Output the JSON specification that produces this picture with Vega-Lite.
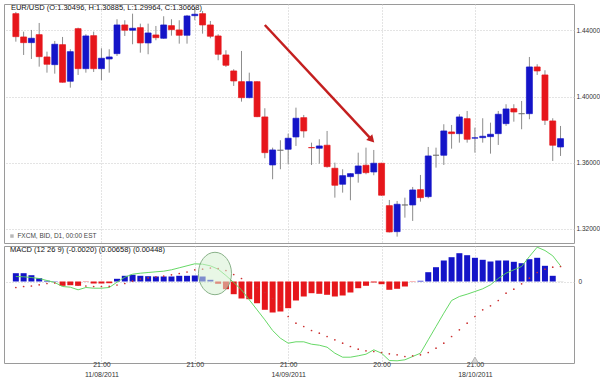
{
"$schema": "https://vega.github.io/schema/vega-lite/v6.json",
"padding": {"left": 3, "top": 3, "right": 0, "bottom": 0},
"spacing": 0,
"background": "white",
"config": {
 "view": {"stroke": "#9a9a9a", "strokeWidth": 1},
 "axis": {"labelFont": "Liberation Sans", "labelColor": "#333333", "labelFontSize": 7, "ticks": false, "domain": false, "gridColor": "#c8c8c8", "gridDash": [1, 2], "title": null}
},
"datasets": {"fx": [
{"i":1,"o":1.45016,"h":1.45119,"l":1.43323,"c":1.43626,"d":"down","m":0.001,"s":-0.0012,"hh":0.00166},
{"i":2,"o":1.43607,"h":1.43928,"l":1.42519,"c":1.43263,"d":"down","m":0.00094,"s":-0.001,"hh":0.00166},
{"i":3,"o":1.43263,"h":1.44031,"l":1.42277,"c":1.43529,"d":"up","m":0.0008,"s":-0.0009,"hh":0.00126},
{"i":4,"o":1.43747,"h":1.44454,"l":1.41812,"c":1.42416,"d":"down","m":0.0006,"s":-0.00066,"hh":0.00066},
{"i":5,"o":1.42398,"h":1.42719,"l":1.41449,"c":1.41957,"d":"down","m":0.0002,"s":-0.0004,"hh":0.00014},
{"i":6,"o":1.41933,"h":1.43366,"l":1.41389,"c":1.43166,"d":"up","m":-0.0002,"s":-0.0003,"hh":0.00006},
{"i":7,"o":1.43142,"h":1.43607,"l":1.4085,"c":1.40869,"d":"down","m":-0.001,"s":-0.0003,"hh":-0.00086},
{"i":8,"o":1.40929,"h":1.42864,"l":1.40542,"c":1.42719,"d":"up","m":-0.00114,"s":-0.0005,"hh":-0.00074},
{"i":9,"o":1.44109,"h":1.4417,"l":1.4131,"c":1.41691,"d":"down","m":-0.00166,"s":-0.0007,"hh":-0.00086},
{"i":10,"o":1.41691,"h":1.43771,"l":1.41449,"c":1.43668,"d":"up","m":-0.0012,"s":-0.0009,"hh":-0.00006},
{"i":11,"o":1.43686,"h":1.43928,"l":1.41491,"c":1.41691,"d":"down","m":-0.00134,"s":-0.001,"hh":-0.0004},
{"i":12,"o":1.41691,"h":1.42924,"l":1.4099,"c":1.4232,"d":"up","m":-0.00134,"s":-0.001,"hh":-0.0004},
{"i":13,"o":1.42277,"h":1.42864,"l":1.41449,"c":1.42398,"d":"up","m":-0.0012,"s":-0.00096,"hh":-0.00034},
{"i":14,"o":1.42598,"h":1.44678,"l":1.42459,"c":1.44333,"d":"up","m":-0.00014,"s":-0.0007,"hh":0.00054},
{"i":15,"o":1.44333,"h":1.44617,"l":1.43668,"c":1.44013,"d":"down","m":0.00086,"s":-0.0004,"hh":0.00114},
{"i":16,"o":1.44013,"h":1.45016,"l":1.43166,"c":1.44133,"d":"up","m":0.00146,"s":0.00006,"hh":0.00134},
{"i":17,"o":1.4417,"h":1.44412,"l":1.42658,"c":1.43245,"d":"down","m":0.00166,"s":0.0005,"hh":0.00114},
{"i":18,"o":1.43245,"h":1.44412,"l":1.42561,"c":1.43849,"d":"up","m":0.0018,"s":0.00074,"hh":0.00106},
{"i":19,"o":1.43728,"h":1.44272,"l":1.43408,"c":1.43565,"d":"down","m":0.00194,"s":0.00094,"hh":0.001},
{"i":20,"o":1.43529,"h":1.44859,"l":1.435,"c":1.44333,"d":"up","m":0.00206,"s":0.00106,"hh":0.001},
{"i":21,"o":1.44291,"h":1.44678,"l":1.43686,"c":1.44049,"d":"down","m":0.00234,"s":0.00134,"hh":0.001},
{"i":22,"o":1.44031,"h":1.44617,"l":1.43202,"c":1.4371,"d":"down","m":0.00274,"s":0.0016,"hh":0.00114},
{"i":23,"o":1.4371,"h":1.44938,"l":1.43202,"c":1.44877,"d":"up","m":0.00314,"s":0.0019,"hh":0.00114},
{"i":24,"o":1.44895,"h":1.45421,"l":1.44617,"c":1.4498,"d":"up","m":0.00354,"s":0.00234,"hh":0.0012},
{"i":25,"o":1.45016,"h":1.45179,"l":1.43807,"c":1.44333,"d":"down","m":0.00346,"s":0.00246,"hh":0.001},
{"i":26,"o":1.44333,"h":1.44575,"l":1.43529,"c":1.4365,"d":"down","m":0.00314,"s":0.0027,"hh":0.00034},
{"i":27,"o":1.43668,"h":1.43771,"l":1.42199,"c":1.42561,"d":"down","m":0.00246,"s":0.0026,"hh":-0.00046},
{"i":28,"o":1.42519,"h":1.42803,"l":1.41794,"c":1.41896,"d":"down","m":0.0012,"s":0.0022,"hh":-0.00154},
{"i":29,"o":1.41552,"h":1.41655,"l":1.40645,"c":1.40947,"d":"down","m":-0.0002,"s":0.0014,"hh":-0.00254},
{"i":30,"o":1.40905,"h":1.42761,"l":1.39696,"c":1.39937,"d":"down","m":-0.00166,"s":0.0006,"hh":-0.0034},
{"i":31,"o":1.39937,"h":1.41449,"l":1.399,"c":1.40905,"d":"up","m":-0.00366,"s":-0.0002,"hh":-0.00354},
{"i":32,"o":1.40905,"h":1.4093,"l":1.3876,"c":1.38789,"d":"down","m":-0.00566,"s":-0.0012,"hh":-0.00434},
{"i":33,"o":1.38771,"h":1.39297,"l":1.36274,"c":1.36612,"d":"down","m":-0.00766,"s":-0.0022,"hh":-0.00566},
{"i":34,"o":1.35869,"h":1.36915,"l":1.35004,"c":1.36775,"d":"up","m":-0.0098,"s":-0.0034,"hh":-0.0062},
{"i":35,"o":1.36757,"h":1.37362,"l":1.35609,"c":1.36757,"d":"flat","m":-0.01134,"s":-0.005,"hh":-0.006},
{"i":36,"o":1.36818,"h":1.37761,"l":1.35911,"c":1.37483,"d":"up","m":-0.01234,"s":-0.007,"hh":-0.00534},
{"i":37,"o":1.37561,"h":1.39333,"l":1.37017,"c":1.38692,"d":"up","m":-0.01206,"s":-0.00834,"hh":-0.0038},
{"i":38,"o":1.38728,"h":1.38892,"l":1.37519,"c":1.37924,"d":"down","m":-0.01206,"s":-0.009,"hh":-0.003},
{"i":39,"o":1.3692,"h":1.37217,"l":1.35869,"c":1.3691,"d":"down","m":-0.01254,"s":-0.0098,"hh":-0.00234},
{"i":40,"o":1.36878,"h":1.37422,"l":1.35947,"c":1.37017,"d":"up","m":-0.01274,"s":-0.01034,"hh":-0.00246},
{"i":41,"o":1.3706,"h":1.37924,"l":1.35705,"c":1.35766,"d":"down","m":-0.01314,"s":-0.011,"hh":-0.00266},
{"i":42,"o":1.35669,"h":1.36008,"l":1.33892,"c":1.34641,"d":"down","m":-0.01434,"s":-0.01166,"hh":-0.003},
{"i":43,"o":1.34702,"h":1.35609,"l":1.34194,"c":1.35222,"d":"up","m":-0.01514,"s":-0.01234,"hh":-0.0028},
{"i":44,"o":1.35161,"h":1.3537,"l":1.33734,"c":1.35343,"d":"up","m":-0.01514,"s":-0.013,"hh":-0.0022},
{"i":45,"o":1.35343,"h":1.36612,"l":1.34798,"c":1.35808,"d":"up","m":-0.01486,"s":-0.01354,"hh":-0.00134},
{"i":46,"o":1.35851,"h":1.36915,"l":1.35306,"c":1.35403,"d":"down","m":-0.01454,"s":-0.01386,"hh":-0.00086},
{"i":47,"o":1.35445,"h":1.36775,"l":1.35246,"c":1.35971,"d":"up","m":-0.01366,"s":-0.014,"hh":-0.0002},
{"i":48,"o":1.35971,"h":1.36,"l":1.3401,"c":1.34037,"d":"down","m":-0.01434,"s":-0.0142,"hh":-0.00054},
{"i":49,"o":1.33408,"h":1.33752,"l":1.3179,"c":1.31818,"d":"down","m":-0.0158,"s":-0.01446,"hh":-0.00166},
{"i":50,"o":1.31836,"h":1.33692,"l":1.31534,"c":1.33492,"d":"up","m":-0.01586,"s":-0.01466,"hh":-0.00146},
{"i":51,"o":1.3345,"h":1.33892,"l":1.32682,"c":1.3345,"d":"flat","m":-0.01566,"s":-0.015,"hh":-0.001},
{"i":52,"o":1.3345,"h":1.34538,"l":1.32483,"c":1.34357,"d":"up","m":-0.015,"s":-0.01486,"hh":-0.00006},
{"i":53,"o":1.34375,"h":1.35264,"l":1.3365,"c":1.33892,"d":"down","m":-0.01434,"s":-0.01466,"hh":0.00014},
{"i":54,"o":1.33952,"h":1.36957,"l":1.33855,"c":1.36413,"d":"up","m":-0.01166,"s":-0.0142,"hh":0.00186},
{"i":55,"o":1.36455,"h":1.36915,"l":1.35705,"c":1.36455,"d":"flat","m":-0.009,"s":-0.01334,"hh":0.00286},
{"i":56,"o":1.36455,"h":1.38329,"l":1.35869,"c":1.37924,"d":"up","m":-0.00634,"s":-0.01234,"hh":0.0042},
{"i":57,"o":1.37864,"h":1.38287,"l":1.36854,"c":1.37761,"d":"down","m":-0.0038,"s":-0.011,"hh":0.00486},
{"i":58,"o":1.37761,"h":1.38934,"l":1.37217,"c":1.38771,"d":"up","m":-0.003,"s":-0.00966,"hh":0.00566},
{"i":59,"o":1.38668,"h":1.39133,"l":1.37217,"c":1.37422,"d":"down","m":-0.00254,"s":-0.00834,"hh":0.00526},
{"i":60,"o":1.3749,"h":1.38124,"l":1.36612,"c":1.3751,"d":"up","m":-0.002,"s":-0.007,"hh":0.00474},
{"i":61,"o":1.37519,"h":1.38692,"l":1.37217,"c":1.37604,"d":"up","m":-0.00146,"s":-0.00566,"hh":0.00434},
{"i":62,"o":1.3758,"h":1.38426,"l":1.36552,"c":1.37725,"d":"up","m":-0.00066,"s":-0.00486,"hh":0.004},
{"i":63,"o":1.37761,"h":1.39133,"l":1.37078,"c":1.38934,"d":"up","m":0.0006,"s":-0.0038,"hh":0.0042},
{"i":64,"o":1.38366,"h":1.39539,"l":1.38226,"c":1.39254,"d":"up","m":0.00166,"s":-0.00234,"hh":0.0042},
{"i":65,"o":1.39272,"h":1.39539,"l":1.38486,"c":1.39073,"d":"down","m":0.00234,"s":-0.00154,"hh":0.00394},
{"i":66,"o":1.3897,"h":1.39738,"l":1.38027,"c":1.3897,"d":"flat","m":0.003,"s":-0.00046,"hh":0.00366},
{"i":67,"o":1.3897,"h":1.42398,"l":1.38632,"c":1.41794,"d":"up","m":0.005,"s":0.00066,"hh":0.00446},
{"i":68,"o":1.41794,"h":1.41957,"l":1.4131,"c":1.41552,"d":"down","m":0.00686,"s":0.0018,"hh":0.00474},
{"i":69,"o":1.4131,"h":1.41594,"l":1.38287,"c":1.38571,"d":"down","m":0.0062,"s":0.00246,"hh":0.00314},
{"i":70,"o":1.38529,"h":1.38692,"l":1.3611,"c":1.3706,"d":"down","m":0.00514,"s":0.00286,"hh":0.00114},
{"i":71,"o":1.36957,"h":1.38226,"l":1.36413,"c":1.37459,"d":"up","m":0.00314,"s":0.003,"hh":0.00003}
]},
"vconcat": [
{
 "width": 570, "height": 239,
 "layer": [
  {"data": {"name": "fx"},
   "mark": {"type": "rule", "color": "#8c8c8c", "strokeWidth": 1},
   "encoding": {
    "x": {"field": "i", "type": "quantitative", "scale": {"domain": [0.12, 72.09], "nice": false, "zero": false},
          "axis": {"values": [12, 24, 36, 48, 60], "labels": false, "grid": true}},
    "y": {"field": "l", "type": "quantitative", "scale": {"domain": [1.3115, 1.456], "nice": false, "zero": false},
          "axis": {"orient": "right", "values": [1.32, 1.36, 1.40, 1.44], "format": ".5f", "grid": true, "labelPadding": 2, "labelFontSize": 6.5}},
    "y2": {"field": "h"}
   }},
  {"data": {"name": "fx"},
   "mark": {"type": "bar", "size": 6, "strokeWidth": 0.7},
   "encoding": {
    "x": {"field": "i", "type": "quantitative", "scale": {"domain": [0.12, 72.09], "nice": false, "zero": false}},
    "y": {"field": "o", "type": "quantitative", "scale": {"domain": [1.3115, 1.456], "nice": false, "zero": false}},
    "y2": {"field": "c"},
    "color": {"field": "d", "type": "nominal", "scale": {"domain": ["up", "down", "flat"], "range": ["#1414c8", "#e6161b", "#707070"]}, "legend": null},
    "stroke": {"field": "d", "type": "nominal", "scale": {"domain": ["up", "down", "flat"], "range": ["#1414c8", "#e6161b", "#707070"]}, "legend": null}
   }},
  {"data": {"values": [{"x1": 33.0, "y1": 1.4433, "x2": 46.7, "y2": 1.3741}]},
   "mark": {"type": "rule", "color": "#c41f1f", "strokeWidth": 2.5},
   "encoding": {
    "x": {"field": "x1", "type": "quantitative", "scale": {"domain": [0.12, 72.09], "nice": false, "zero": false}},
    "x2": {"field": "x2"},
    "y": {"field": "y1", "type": "quantitative", "scale": {"domain": [1.3115, 1.456], "nice": false, "zero": false}},
    "y2": {"field": "y2"}
   }},
  {"data": {"values": [{}]},
   "mark": {"type": "point", "shape": "triangle-up", "angle": 136.5, "size": 70, "filled": true, "color": "#c41f1f", "opacity": 1},
   "encoding": {
    "x": {"datum": 46.74, "type": "quantitative", "scale": {"domain": [0.12, 72.09], "nice": false, "zero": false}},
    "y": {"datum": 1.3739, "type": "quantitative", "scale": {"domain": [1.3115, 1.456], "nice": false, "zero": false}}
   }},
  {"data": {"values": [{}]},
   "mark": {"type": "text", "align": "left", "baseline": "middle", "font": "Liberation Sans", "fontSize": 7.5, "color": "#111111", "text": "EUR/USD (O:1.30496, H:1.30885, L:1.29964, C:1.30668)"},
   "encoding": {
    "x": {"datum": 0.37, "type": "quantitative", "scale": {"domain": [0.12, 72.09], "nice": false, "zero": false}},
    "y": {"datum": 1.4535, "type": "quantitative", "scale": {"domain": [1.3115, 1.456], "nice": false, "zero": false}}
   }},
  {"data": {"values": [{}]},
   "mark": {"type": "point", "shape": "square", "size": 12, "filled": true, "color": "#b8b8b8", "opacity": 1},
   "encoding": {
    "x": {"datum": 0.5, "type": "quantitative", "scale": {"domain": [0.12, 72.09], "nice": false, "zero": false}},
    "y": {"datum": 1.3157, "type": "quantitative", "scale": {"domain": [1.3115, 1.456], "nice": false, "zero": false}}
   }},
  {"data": {"values": [{}]},
   "mark": {"type": "text", "align": "left", "baseline": "middle", "font": "Liberation Sans", "fontSize": 6.5, "color": "#444444", "text": "FXCM, BID, D1, 00:00 EST"},
   "encoding": {
    "x": {"datum": 1.2, "type": "quantitative", "scale": {"domain": [0.12, 72.09], "nice": false, "zero": false}},
    "y": {"datum": 1.3157, "type": "quantitative", "scale": {"domain": [1.3115, 1.456], "nice": false, "zero": false}}
   }}
 ]
},
{
 "width": 570, "height": 117,
 "layer": [
  {"data": {"name": "fx"},
   "mark": {"type": "bar", "size": 6},
   "encoding": {
    "x": {"field": "i", "type": "quantitative", "scale": {"domain": [0.12, 72.09], "nice": false, "zero": false},
          "axis": {"values": [12, 24, 36, 48, 60], "grid": true, "labelPadding": -3, "labelLineHeight": 10, "labelFontSize": 7,
                   "labelExpr": "datum.value == 12 ? ['21:00', '11/08/2011'] : datum.value == 36 ? ['21:00', '14/09/2011'] : datum.value == 48 ? '20:00' : datum.value == 60 ? ['21:00', '18/10/2011'] : '21:00'"}},
    "y": {"field": "hh", "type": "quantitative", "scale": {"domain": [-0.0163, 0.0071], "nice": false, "zero": false},
          "axis": {"orient": "right", "values": [0], "format": "d", "grid": true, "labelPadding": 4, "labelFontSize": 6.5}},
    "y2": {"datum": 0},
    "color": {"condition": [{"test": "abs(datum.hh) < 0.00004", "value": "#777777"}, {"test": "datum.hh < 0", "value": "#e6161b"}], "value": "#1414c8"}
   }},
  {"data": {"name": "fx"},
   "mark": {"type": "line", "color": "#55d455", "strokeWidth": 1, "opacity": 0.9},
   "encoding": {
    "x": {"field": "i", "type": "quantitative", "scale": {"domain": [0.12, 72.09], "nice": false, "zero": false}},
    "y": {"field": "m", "type": "quantitative", "scale": {"domain": [-0.0163, 0.0071], "nice": false, "zero": false}}
   }},
  {"data": {"name": "fx"},
   "mark": {"type": "point", "filled": true, "size": 3, "color": "#cc3333", "opacity": 1},
   "encoding": {
    "x": {"field": "i", "type": "quantitative", "scale": {"domain": [0.12, 72.09], "nice": false, "zero": false}},
    "y": {"field": "s", "type": "quantitative", "scale": {"domain": [-0.0163, 0.0071], "nice": false, "zero": false}}
   }},
  {"data": {"values": [{}]},
   "mark": {"type": "point", "shape": "M -0.78 0 A 0.78 1 0 1 0 0.78 0 A 0.78 1 0 1 0 -0.78 0 Z", "size": 1800, "filled": false, "fill": "#d6f0d2", "fillOpacity": 0.55, "stroke": "#6e9e6e", "strokeWidth": 0.8, "opacity": 1},
   "encoding": {
    "x": {"datum": 26.59, "type": "quantitative", "scale": {"domain": [0.12, 72.09], "nice": false, "zero": false}},
    "y": {"datum": 0.0016, "type": "quantitative", "scale": {"domain": [-0.0163, 0.0071], "nice": false, "zero": false}}
   }},
  {"data": {"values": [{}]},
   "mark": {"type": "point", "shape": "triangle-up", "size": 45, "filled": true, "fill": "#d8d8d8", "stroke": "#a8a8a8", "strokeWidth": 0.8, "opacity": 1},
   "encoding": {
    "x": {"datum": 60, "type": "quantitative", "scale": {"domain": [0.12, 72.09], "nice": false, "zero": false}},
    "y": {"datum": -0.0157, "type": "quantitative", "scale": {"domain": [-0.0163, 0.0071], "nice": false, "zero": false}}
   }},
  {"data": {"values": [{}]},
   "mark": {"type": "text", "align": "left", "baseline": "middle", "font": "Liberation Sans", "fontSize": 7.5, "color": "#111111", "text": "MACD (12 26 9)  (-0.0020) (0.00658) (0.00448)"},
   "encoding": {
    "x": {"datum": 0.24, "type": "quantitative", "scale": {"domain": [0.12, 72.09], "nice": false, "zero": false}},
    "y": {"datum": 0.0063, "type": "quantitative", "scale": {"domain": [-0.0163, 0.0071], "nice": false, "zero": false}}
   }}
 ]
}
]
}
